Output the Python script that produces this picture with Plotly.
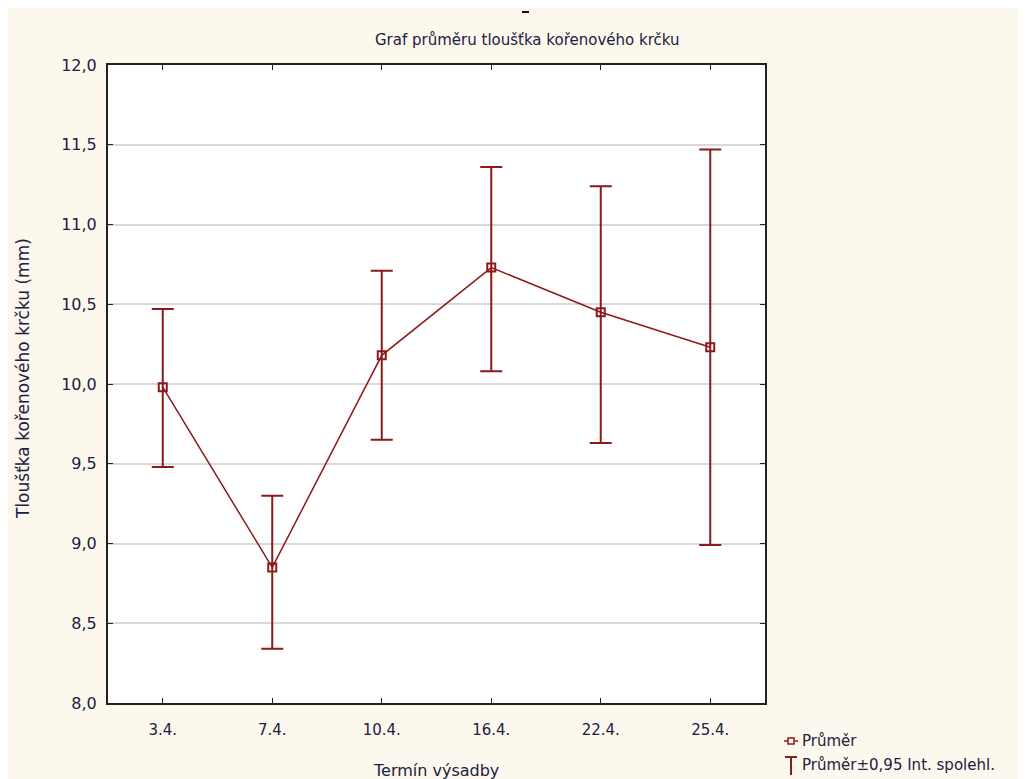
import plotly.graph_objects as go

categories = ["3.4.", "7.4.", "10.4.", "16.4.", "22.4.", "25.4."]
means = [9.98, 8.85, 10.18, 10.73, 10.45, 10.23]
upper = [10.47, 9.30, 10.71, 11.36, 11.24, 11.47]
lower = [9.48, 8.34, 9.65, 10.08, 9.63, 8.99]
y_ticks = [8.0, 8.5, 9.0, 9.5, 10.0, 10.5, 11.0, 11.5, 12.0]
y_tick_labels = ["8,0", "8,5", "9,0", "9,5", "10,0", "10,5", "11,0", "11,5", "12,0"]

red = "#8b1a1a"
bg = "#fdf8ed"
txt = "#202040"
font_fam = "DejaVu Sans, Verdana, sans-serif"

err_plus = [u - m for u, m in zip(upper, means)]
err_minus = [m - l for m, l in zip(means, lower)]

W, H = 1019, 771
L, R, T, B = 100, 262, 57, 76
PW, PH = W - L - R, H - T - B


def px(fx):
    return (fx - L) / PW


def py(fy):
    return (H - B - fy) / PH


fig = go.Figure()
fig.add_trace(go.Scatter(
    x=categories, y=means, mode="lines+markers",
    line=dict(color=red, width=1.5),
    marker=dict(symbol="square-open", size=8, color=red, line=dict(width=2, color=red)),
    error_y=dict(type="data", symmetric=False, array=err_plus, arrayminus=err_minus,
                 color=red, thickness=2, width=11),
    showlegend=False,
))

fig.update_layout(
    width=W, height=H,
    paper_bgcolor=bg, plot_bgcolor="white",
    margin=dict(l=L, r=R, t=T, b=B),
    font=dict(family=font_fam, size=16, color=txt),
    xaxis=dict(type="category", range=[-0.5, 5.5], showgrid=False,
               showline=True, linecolor="#222", linewidth=2, mirror="ticks",
               ticks="inside", ticklen=5, tickcolor="#222",
               tickfont=dict(size=15), ticklabelstandoff=12),
    yaxis=dict(range=[8.0, 12.0], tickvals=y_ticks, ticktext=y_tick_labels,
               showgrid=True, gridcolor="#d9d9d9", gridwidth=2,
               showline=True, linecolor="#222", linewidth=2, mirror="ticks",
               ticks="inside", ticklen=5, tickcolor="#222",
               tickfont=dict(size=16), ticklabelstandoff=6, zeroline=False),
)

# title
fig.add_annotation(xref="paper", yref="paper", x=px(519), y=py(32), xanchor="center",
                   yanchor="middle", showarrow=False,
                   text="Graf průměru tloušťka kořenového krčku", font=dict(size=15, color=txt))
# small dash above the title
fig.add_shape(type="line", xref="paper", yref="paper", x0=px(514), x1=px(521),
              y0=py(4), y1=py(4), line=dict(color="#111", width=2))
# axis titles
fig.add_annotation(xref="paper", yref="paper", x=px(428), y=py(763), xanchor="center",
                   yanchor="middle", showarrow=False, text="Termín výsadby",
                   font=dict(size=16, color=txt))
fig.add_annotation(xref="paper", yref="paper", x=px(15), y=py(371), xanchor="center",
                   yanchor="middle", showarrow=False, textangle=-90,
                   text="Tloušťka kořenového krčku (mm)", font=dict(size=17, color=txt))

# manual legend
fig.add_shape(type="line", xref="paper", yref="paper", x0=px(776), x1=px(790),
              y0=py(733), y1=py(733), line=dict(color=red, width=1.5))
fig.add_shape(type="rect", xref="paper", yref="paper", x0=px(780), x1=px(786),
              y0=py(736), y1=py(730), line=dict(color=red, width=1.5), fillcolor="white")
fig.add_annotation(xref="paper", yref="paper", x=px(792), y=py(733), xanchor="left",
                   yanchor="middle", showarrow=False, text="Průměr", font=dict(size=15, color=txt))
fig.add_shape(type="line", xref="paper", yref="paper", x0=px(783), x1=px(783),
              y0=py(749), y1=py(767), line=dict(color=red, width=2))
fig.add_shape(type="line", xref="paper", yref="paper", x0=px(777), x1=px(789),
              y0=py(749), y1=py(749), line=dict(color=red, width=2))
fig.add_annotation(xref="paper", yref="paper", x=px(792), y=py(757), xanchor="left",
                   yanchor="middle", showarrow=False, text="Průměr±0,95 Int. spolehl.",
                   font=dict(size=15, color=txt))

fig.write_html("out.html")
